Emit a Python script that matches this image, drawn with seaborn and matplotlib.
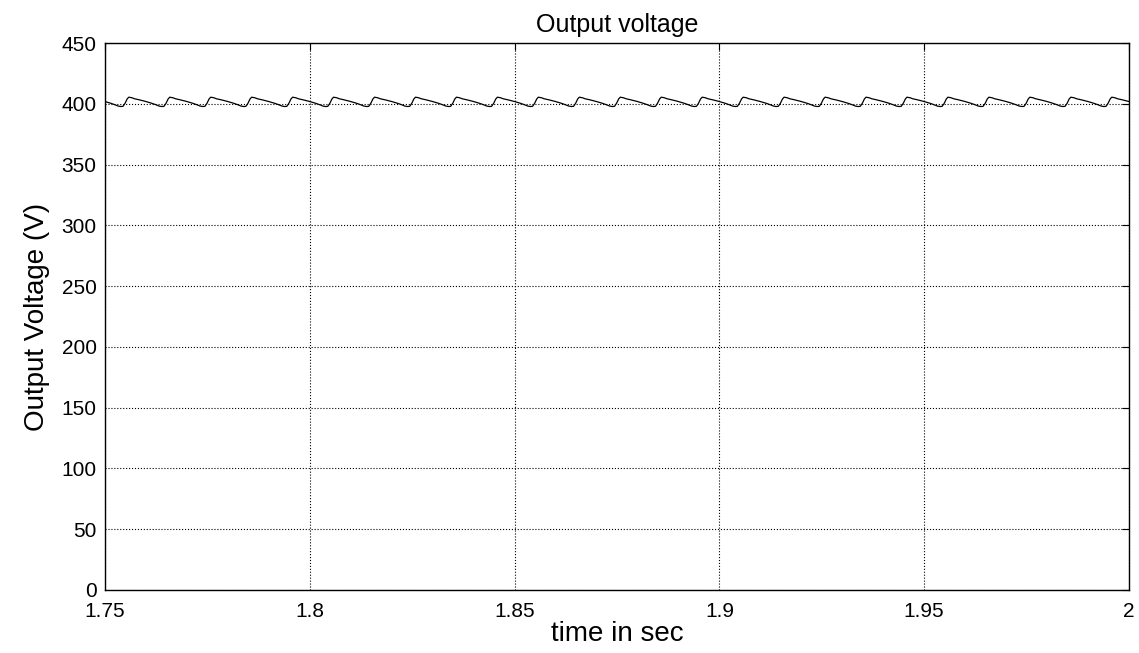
# output voltage ripple plot (MATLAB style)
import numpy as np
import pandas as pd
import seaborn as sns
import matplotlib.pyplot as plt

# one ripple cycle (phase as fraction of a period, volts)
cycle_phase = [0.00, 0.05, 0.10, 0.14, 0.22, 0.28, 0.40, 0.55, 0.70, 0.80, 0.88, 0.95]
cycle_volt = [398.0, 400.5, 404.0, 405.5, 405.0, 404.2, 403.3, 402.0, 400.5, 399.3, 398.2, 397.8]
period = 0.01
first_start = 1.7444
n_cycles = 26

x_ticks = [1.75, 1.8, 1.85, 1.9, 1.95, 2.0]
x_labels = ['1.75', '1.8', '1.85', '1.9', '1.95', '2']
y_ticks = [0, 50, 100, 150, 200, 250, 300, 350, 400, 450]

# repeat the periodic waveform
starts = first_start + period * np.arange(n_cycles)
t = (starts[:, None] + np.array(cycle_phase)[None, :] * period).ravel()
v = np.tile(cycle_volt, n_cycles)
df = pd.DataFrame({'t': t, 'v': v})

sns.set_style('white')
plt.rcParams['font.family'] = ['Liberation Sans', 'DejaVu Sans']
plt.rcParams['text.color'] = 'black'
plt.rcParams['axes.labelcolor'] = 'black'

fig = plt.figure(figsize=(11.39, 6.53), dpi=100)
ax = fig.add_axes([0.0922, 0.0965, 0.8990, 0.8375])

sns.lineplot(data=df, x='t', y='v', color='black', linewidth=0.9, ax=ax)

ax.set_xlim(1.75, 2.0)
ax.set_ylim(0, 450)
ax.set_xticks(x_ticks)
ax.set_xticklabels(x_labels)
ax.set_yticks(y_ticks)
ax.grid(True, color='black', linestyle=':', linewidth=0.8)
ax.tick_params(direction='in', length=5, width=0.8, labelsize=15,
               top=True, right=True, colors='black')
ax.tick_params(axis='y', pad=6)
ax.tick_params(axis='x', pad=9)
for s in ax.spines.values():
    s.set_color('black')
    s.set_linewidth(1.0)

ax.set_title('Output voltage', fontsize=18, pad=8, color='black')
ax.set_xlabel('time in sec', fontsize=20, labelpad=0)
ax.set_ylabel('Output Voltage (V)', fontsize=20, labelpad=8)

fig.savefig('out.png', dpi=100)
